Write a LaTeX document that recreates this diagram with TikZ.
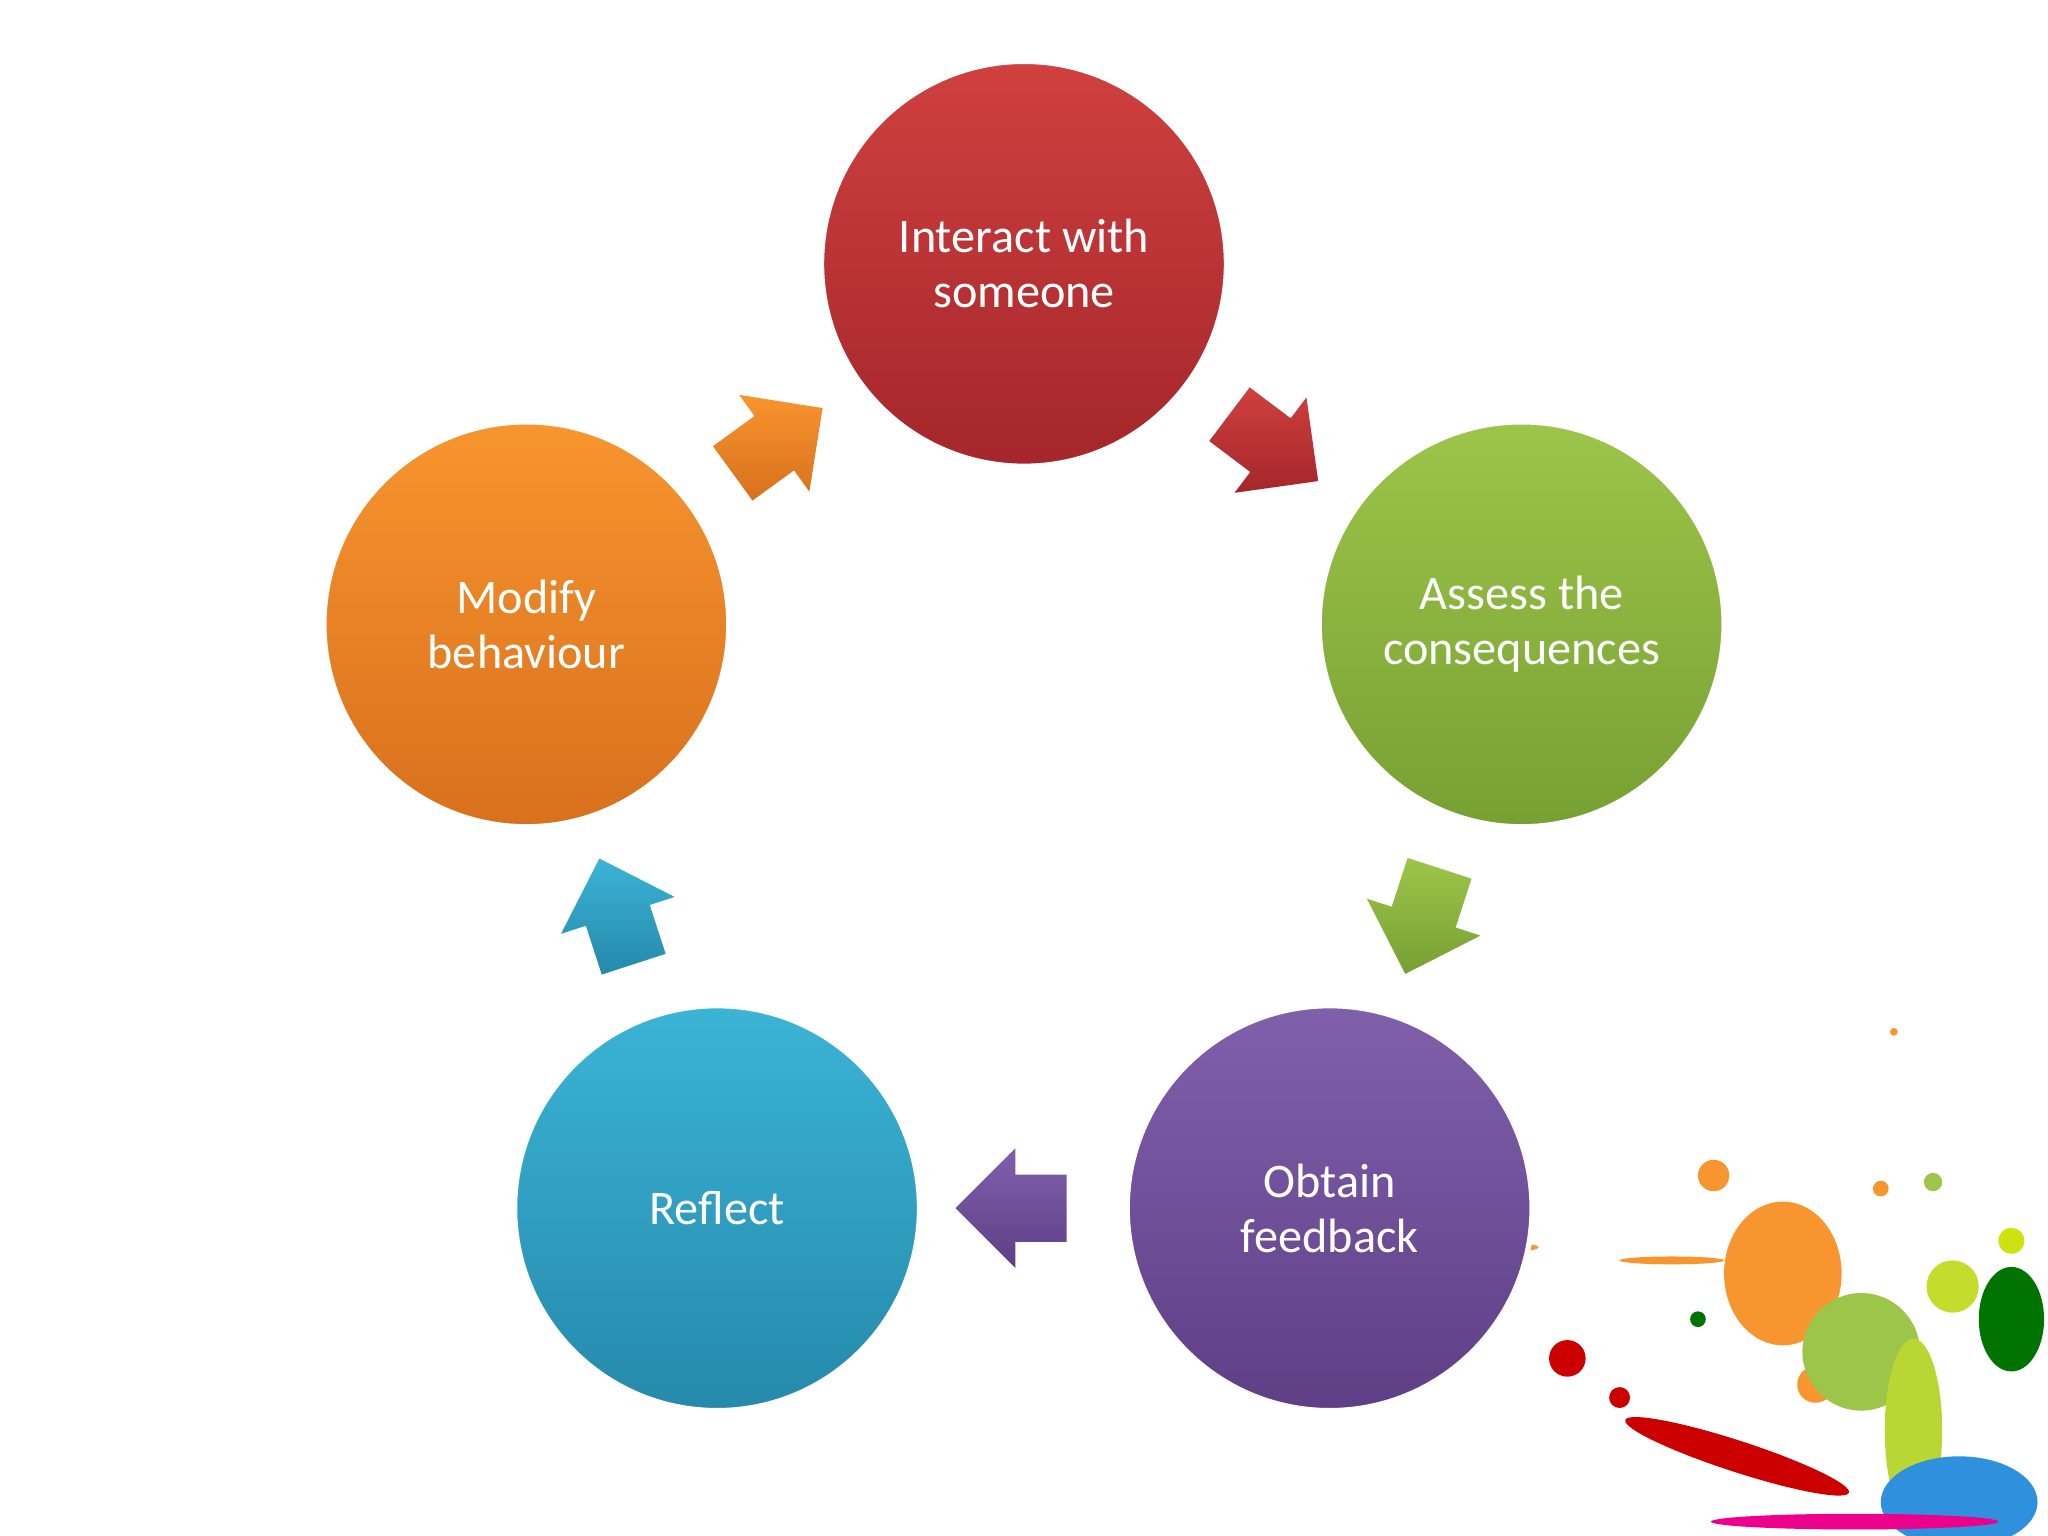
\documentclass[tikz,border=0pt]{standalone}
\usepackage{fontspec}
\setmainfont{Carlito}
\usetikzlibrary{shapes.arrows}
\definecolor{redA}{HTML}{D0403F}\definecolor{redB}{HTML}{A4262B}
\definecolor{grnA}{HTML}{9DC54A}\definecolor{grnB}{HTML}{77A033}
\definecolor{purA}{HTML}{8060AB}\definecolor{purB}{HTML}{5E3F86}
\definecolor{bluA}{HTML}{3BB4D6}\definecolor{bluB}{HTML}{2589AB}
\definecolor{orgA}{HTML}{F7952E}\definecolor{orgB}{HTML}{D8701D}
\tikzset{
 stage/.style 2 args={circle,minimum size=3.1cm,draw=white,line width=1.2pt,
   top color=#1,bottom color=#2,text=white,align=center,font=\fontsize{10.5}{12}\selectfont},
 blockarrow/.style 2 args={single arrow,single arrow head extend=0.2cm,minimum height=0.85cm,
   inner xsep=0.2cm,inner ysep=0.25cm,text height=0pt,text depth=0pt,
   top color=#1,bottom color=#2},
 blob/.style={fill=#1,draw=none}
}
\begin{document}
\begin{tikzpicture}[x=0.01cm,y=-0.01cm]
\useasboundingbox (0,0) rectangle (1568,1176);
\fill[white] (0,0) rectangle (1568,1176);
% splatter
\begin{scope}
\clip (1130,760) rectangle (1568,1176);
\fill[blob=orgA] (1365,975) ellipse (45 and 55);
\fill[blob=orgA] (1312,900) circle (12);
\fill[blob=orgA] (1390,1060) circle (14);
\fill[blob=grnA] (1425,1035) ellipse (45 and 45);
\fill[blob=grnA!70!yellow] (1465,1095) ellipse (22 and 70);
\fill[blob=grnA!60!yellow] (1495,985) circle (20);
\fill[blob=green!45!black] (1540,1010) ellipse (25 and 40);
\fill[blob=green!45!black] (1300,1010) circle (6);
\fill[blob=bluA!80!blue] (1500,1150) ellipse (60 and 35);
\fill[blob=red!80!black] (1200,1040) circle (14);
\fill[blob=red!80!black] (1240,1070) circle (8);
\fill[blob=red!80!black, rotate around={-18:(1330,1115)}] (1330,1115) ellipse (90 and 12);
\fill[blob=magenta] (1420,1165) ellipse (110 and 6);
\fill[blob=yellow!80!green] (1540,950) circle (10);
\fill[blob=orgA] (1440,910) circle (6);
\fill[blob=orgA] (1280,965) ellipse (40 and 3);
\fill[blob=orgA] (1160,955) ellipse (18 and 3);
\fill[blob=orgA] (1450,790) circle (3);
\fill[blob=grnA] (1480,905) circle (7);
\end{scope}
% stages
\node[stage={redA}{redB}] (interact) at (784,202) {Interact with\\someone};
\node[stage={grnA}{grnB}] (assess) at (1165,478) {Assess the\\consequences};
\node[stage={purA}{purB}] (obtain) at (1018,925) {Obtain\\feedback};
\node[stage={bluA}{bluB}] (reflect) at (549,925) {Reflect};
\node[stage={orgA}{orgB}] (modify) at (403,478) {Modify\\behaviour};
% arrows
\node[blockarrow={redA}{redB},rotate=-37] (a1) at (965,335) {};
\node[blockarrow={grnA}{grnB},rotate=-108] (a2) at (1093,693) {};
\node[blockarrow={purA}{purB},rotate=180] (a3) at (787,925) {};
\node[blockarrow={bluA}{bluB},rotate=108] (a4) at (476,710) {};
\node[blockarrow={orgA}{orgB},rotate=36] (a5) at (585,345) {};
\end{tikzpicture}
\end{document}
